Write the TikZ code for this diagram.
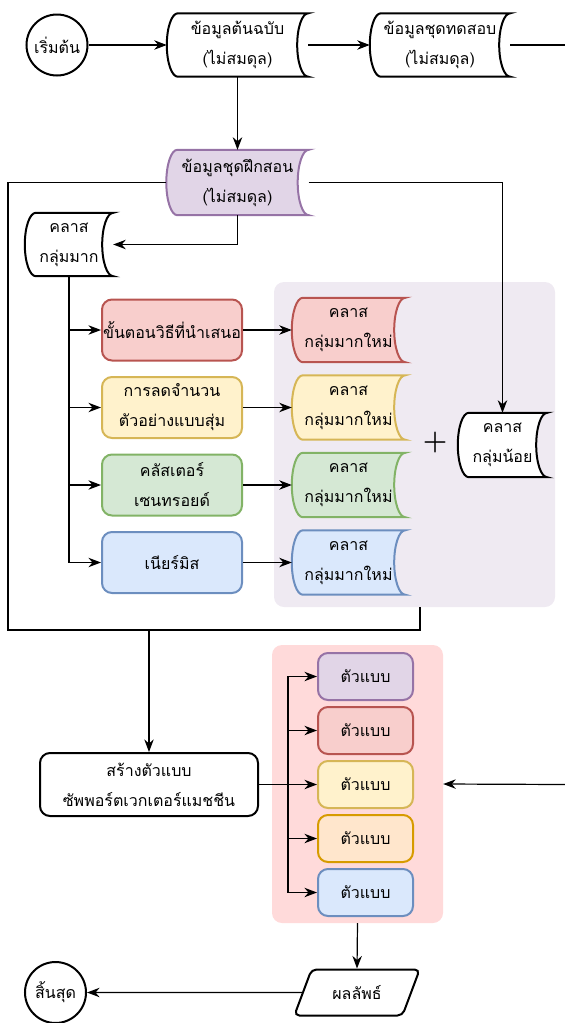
\documentclass[tikz,border=0pt]{standalone}
\usepackage{fontspec}
\newfontfamily\thaifont[Script=Thai]{Loma}
\usetikzlibrary{arrows.meta,calc,shapes.geometric}

\definecolor{purplefill}{HTML}{E1D5E7}
\definecolor{purpleline}{HTML}{9673A6}
\definecolor{redfill}{HTML}{F8CECC}
\definecolor{redline}{HTML}{B85450}
\definecolor{yellowfill}{HTML}{FFF2CC}
\definecolor{yellowline}{HTML}{D6B656}
\definecolor{greenfill}{HTML}{D5E8D4}
\definecolor{greenline}{HTML}{82B366}
\definecolor{bluefill}{HTML}{DAE8FC}
\definecolor{blueline}{HTML}{6C8EBF}
\definecolor{orangefill}{HTML}{FFE6CC}
\definecolor{orangeline}{HTML}{D79B00}
\definecolor{lavender}{HTML}{EFEAF2}
\definecolor{blush}{HTML}{FFDADA}

\pgfdeclarelayer{back}
\pgfdeclarelayer{mid}
\pgfsetlayers{back,mid,main}

\tikzset{
  every node/.style={font=\thaifont\fontsize{16}{30}\selectfont, align=center},
  line/.style={line width=1.2pt},
  arr/.style={line, -{Stealth[scale=1.5]}},
  thickline/.style={line width=2pt},
  blacktone/.style={draw=black, fill=white},
  purpletone/.style={draw=purpleline, fill=purplefill},
  redtone/.style={draw=redline, fill=redfill},
  yellowtone/.style={draw=yellowline, fill=yellowfill},
  greentone/.style={draw=greenline, fill=greenfill},
  bluetone/.style={draw=blueline, fill=bluefill},
  orangetone/.style={draw=orangeline, fill=orangefill},
  terminal/.style={circle, draw, thickline, minimum size=61, inner sep=0pt},
  docnode/.style={minimum width=#1, minimum height=63, inner sep=0pt},
  procbox/.style={rounded corners=10, thickline, minimum width=#1, inner sep=0pt},
  groupbox/.style={rounded corners=10, inner sep=0pt}
}

% stored-data outline round a named node, drawn under the text
\newcommand\datashape[2]{%
  \begin{pgfonlayer}{mid}
    \draw[thickline, #1] let \p1=(#2.north east), \p2=(#2.south west),
      \n1={(\y1-\y2)/2} in
      (\x2+11pt,\y1) -- (\x1,\y1)
      arc[start angle=90, end angle=270, x radius=11pt, y radius={\n1*1pt}]
      -- (\x2+11pt,\y2)
      arc[start angle=270, end angle=90, x radius=11pt, y radius={\n1*1pt}]
      -- cycle;
  \end{pgfonlayer}}

\begin{document}
\begin{tikzpicture}[x=1pt, y=-1pt]
  \useasboundingbox (0,0) rectangle (565,1023);

  % group backgrounds
  \begin{pgfonlayer}{back}
    \node[groupbox, fill=lavender, minimum width=281, minimum height=325] (newgroup) at (414.5,444.5) {};
    \node[groupbox, fill=blush, minimum width=171, minimum height=278] (modelgroup) at (357.5,784) {};
  \end{pgfonlayer}

  % top row
  \node[terminal] (start) at (57,45) {เริ่มต้น};
  \node[docnode=141] (orig) at (237.5,45) {ข้อมูลต้นฉบับ\\(ไม่สมดุล)};
  \datashape{blacktone}{orig}
  \node[docnode=140] (test) at (440,45) {ข้อมูลชุดทดสอบ\\(ไม่สมดุล)};
  \datashape{blacktone}{test}
  \coordinate (offright) at (565,45);

  \node[docnode=142, minimum height=65] (train) at (237.5,182.5) {ข้อมูลชุดฝึกสอน\\(ไม่สมดุล)};
  \datashape{purpletone}{train}
  \node[docnode=88] (major) at (69,244.5) {คลาส\\กลุ่มมาก};
  \datashape{blacktone}{major}

  % resampling methods and their new majority classes
  \foreach \tone/\txt [count=\r] in {redtone/{ขั้นตอนวิธีที่นำเสนอ},
      yellowtone/{การลดจำนวน\\ตัวอย่างแบบสุ่ม},
      greentone/{คลัสเตอร์\\เซนทรอยด์},
      bluetone/{เนียร์มิส}} {
    \node[procbox=140, minimum height=61, \tone] (meth\r) at (172,330+77.5*\r-77.5) {\txt};
    \node[docnode=113, minimum height=64] (newmaj\r) at (348.5,330+77.5*\r-77.5) {คลาส\\กลุ่มมากใหม่};
    \datashape{\tone}{newmaj\r}
    \draw[arr] (major.south) |- (meth\r.west);
    \draw[arr] (meth\r.east) -- (newmaj\r.west);
  }

  \node[font=\bfseries\fontsize{28}{28}\selectfont] (plus) at (435,443) {+};
  \node[docnode=89, minimum height=64] (minor) at (502.5,445) {คลาส\\กลุ่มน้อย};
  \datashape{blacktone}{minor}

  % bottom part
  \node[procbox=218, minimum height=63, blacktone] (svm) at (149,784.5) {สร้างตัวแบบ\\ซัพพอร์ตเวกเตอร์แมชชีน};
  \foreach \tone [count=\k] in {purpletone, redtone, yellowtone, orangetone, bluetone}
    \node[procbox=95, minimum height=47, \tone] (model\k) at (365.5,622.5+54*\k) {ตัวแบบ};
  \node[trapezium, trapezium left angle=63, trapezium right angle=117,
        trapezium stretches=true, minimum width=126, minimum height=46,
        thickline, rounded corners=5, blacktone] (result) at (357,992.5) {ผลลัพธ์};
  \node[terminal] (finish) at (55.5,992.5) {สิ้นสุด};

  \coordinate (framebl) at (8,630);
  \coordinate (framebr) at (420,630);
  \coordinate (svmfork) at (149,630);
  \coordinate (bus) at (288,784.5);
  \coordinate (offright2) at (565,784.5);

  % connectors
  \draw[arr] (start) -- (orig);
  \draw[arr] (orig) -- (test);
  \draw[line] (test) -- (offright);
  \draw[arr] (orig) -- (train);
  \draw[arr] (train.south) |- (major.east);
  \draw[arr] (train.east) -| (minor.north);
  \draw[line] (train.west) -| (framebl) -- (framebr) -- (framebr |- newgroup.south);
  \draw[arr] (svmfork) -- (svm.north);
  \draw[arr] (svm.east) -- (model3.west);
  \foreach \k in {1,2,4,5}
    \draw[arr] (bus) |- (model\k.west);
  \draw[arr] (offright2) -- (modelgroup.east);
  \draw[arr] (modelgroup.south) -- (result.north);
  \draw[arr] (result.west) -- (finish.east);
\end{tikzpicture}
\end{document}
